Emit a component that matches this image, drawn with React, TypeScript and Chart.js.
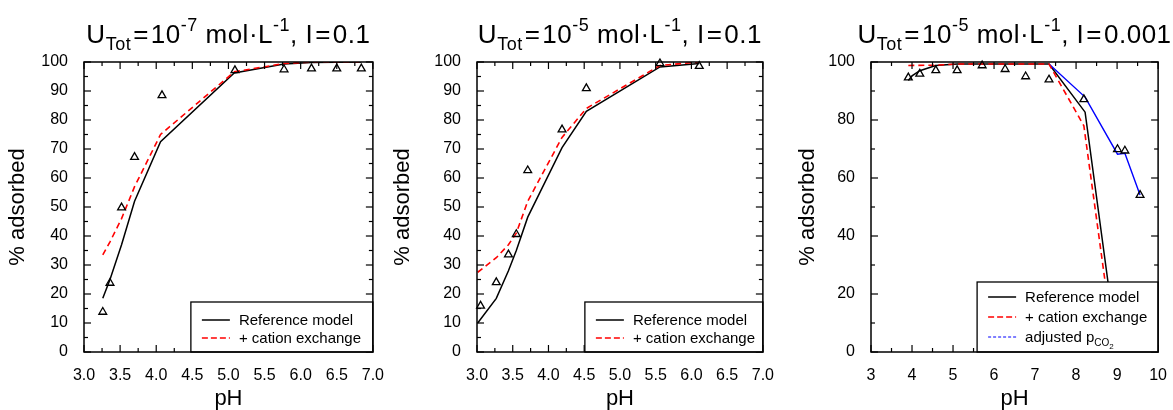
import React, { useEffect, useRef } from 'react';
import { Chart, registerables } from 'chart.js';

Chart.register(...registerables);

const FONT = "'Liberation Sans', Arial, Helvetica, sans-serif";

// ---------- Panel 1: U_Tot = 1e-7 mol/L, I = 0.1 ----------
const p1ExpPH = [3.26, 3.36, 3.52, 3.70, 4.08, 5.09, 5.77, 6.15, 6.50, 6.84];
const p1ExpAds = [13.8, 23.8, 49.8, 67.2, 88.5, 97.1, 97.4, 97.7, 97.7, 97.7];
const p1RefPH = [3.26, 3.36, 3.52, 3.70, 4.06, 5.08, 5.77, 6.15, 6.84];
const p1RefAds = [18.5, 25.0, 37.0, 52.0, 72.5, 96.2, 99.3, 99.8, 100];
const p1CexPH = [3.26, 3.36, 3.52, 3.70, 4.06, 5.08, 5.77, 6.15, 6.84];
const p1CexAds = [33.5, 38.0, 46.0, 57.0, 75.0, 96.6, 99.5, 100, 100];

// ---------- Panel 2: U_Tot = 1e-5 mol/L, I = 0.1 ----------
const p2ExpPH = [3.05, 3.27, 3.44, 3.55, 3.71, 4.19, 4.53, 5.56, 6.11];
const p2ExpAds = [15.9, 24.0, 33.6, 40.6, 62.6, 76.7, 90.9, 99.5, 98.6];
const p2RefPH = [3.01, 3.27, 3.44, 3.55, 3.71, 4.19, 4.53, 5.56, 6.11];
const p2RefAds = [10.0, 18.5, 28.0, 35.0, 46.5, 70.5, 83.0, 98.3, 99.5];
const p2CexPH = [3.01, 3.27, 3.44, 3.55, 3.71, 4.19, 4.53, 5.56, 6.11];
const p2CexAds = [27.5, 32.5, 37.0, 41.0, 52.0, 74.0, 84.0, 98.8, 100];

// ---------- Panel 3: U_Tot = 1e-5 mol/L, I = 0.001 ----------
const p3ExpPH = [3.91, 4.19, 4.58, 5.10, 5.71, 6.27, 6.77, 7.34, 8.19, 9.01, 9.19, 9.56];
const p3ExpAds = [94.6, 95.9, 97.1, 97.1, 98.8, 97.5, 95.0, 93.9, 87.1, 69.9, 69.4, 54.1];
const p3RefPH = [3.91, 4.00, 4.19, 4.58, 5.10, 7.34, 8.22, 8.77, 9.00];
const p3RefAds = [93.6, 95.2, 97.0, 98.8, 99.3, 99.3, 82.7, 25.0, 0];
const p3CexPH = [3.91, 4.58, 5.10, 7.34, 8.19, 8.71, 8.95];
const p3CexAds = [98.8, 98.9, 99.3, 99.3, 78.0, 24.0, 0];
const p3PcoPH = [7.34, 8.22, 9.01, 9.19, 9.56];
const p3PcoAds = [99.3, 87.9, 68.2, 68.5, 54.1];

// ---------- Ticks ----------
const xTicksHalf = [3.0, 3.5, 4.0, 4.5, 5.0, 5.5, 6.0, 6.5, 7.0];
const xTicksUnit = [3, 4, 5, 6, 7, 8, 9, 10];
const yTicksTen = [0, 10, 20, 30, 40, 50, 60, 70, 80, 90, 100];
const yTicksTwenty = [0, 20, 40, 60, 80, 100];

// ---------- Text ----------
const yAxisLabel = '% adsorbed';
const xAxisLabel = 'pH';
const legendRef = 'Reference model';
const legendCex = '+ cation exchange';
const legendPco = 'adjusted p';

type Piece = { t: string; k?: 'sub' | 'sup' | 'sub2'; gap?: number };

const titlePieces = (exp: string, ionic: string): Piece[] => [
  { t: 'U' },
  { t: 'Tot', k: 'sub' },
  { t: '=', gap: 2 },
  { t: '10' },
  { t: exp, k: 'sup' },
  { t: ' mol\u00b7L' },
  { t: '-1', k: 'sup' },
  { t: ', I' },
  { t: '=', gap: 2 },
  { t: ionic },
];

function drawPieces(
  ctx: CanvasRenderingContext2D,
  pieces: Piece[],
  x: number,
  baseline: number,
  size: number,
  center: boolean,
  spacing: number
) {
  const sizes = pieces.map((p) => (p.k === 'sub2' ? Math.round(size * 0.55) : p.k ? Math.round(size * 0.68) : size));
  (ctx as any).letterSpacing = spacing + 'px';
  const widths = pieces.map((p, i) => {
    ctx.font = `${sizes[i]}px ${FONT}`;
    return ctx.measureText(p.t).width + 2 * (p.gap || 0);
  });
  const total = widths.reduce((a, b) => a + b, 0);
  let cx = center ? x - total / 2 : x;
  ctx.textAlign = 'left';
  ctx.textBaseline = 'alphabetic';
  pieces.forEach((p, i) => {
    ctx.font = `${sizes[i]}px ${FONT}`;
    let dy = 0;
    if (p.k === 'sub') dy = size * 0.28;
    if (p.k === 'sup') dy = -size * 0.45;
    if (p.k === 'sub2') dy = size * 0.45;
    ctx.fillText(p.t, cx + (p.gap || 0), baseline + dy);
    cx += widths[i];
  });
  (ctx as any).letterSpacing = '0px';
}

type LineSpec = {
  ph: number[];
  ads: number[];
  color: string;
  dash: number[];
  width: number;
  order: number;
  legDash: number[];
  legWidth: number;
  pieces: Piece[];
};

type PanelSpec = {
  id: string;
  left: number;
  w: number;
  plotLeft: number;
  plotRight: number;
  xMin: number;
  xMax: number;
  xTicks: number[];
  yTicks: number[];
  xFmt: (v: number) => string;
  yTitlePad: number;
  expPH: number[];
  expAds: number[];
  lines: LineSpec[];
  title: Piece[];
  legW: number;
  legH: number;
  legRow0: number;
  legGap: number;
};

const refLine = (ph: number[], ads: number[]): LineSpec => ({
  ph, ads, color: '#000000', dash: [], width: 1.5, order: 3, legDash: [], legWidth: 1.5,
  pieces: [{ t: legendRef }],
});
const cexLine = (ph: number[], ads: number[]): LineSpec => ({
  ph, ads, color: '#ff0000', dash: [6, 4], width: 1.6, order: 1, legDash: [6, 3], legWidth: 1.6,
  pieces: [{ t: legendCex }],
});
const pcoLine = (ph: number[], ads: number[]): LineSpec => ({
  ph, ads, color: '#0000ff', dash: [], width: 1.4, order: 2, legDash: [3, 2], legWidth: 1.1,
  pieces: [{ t: legendPco }, { t: 'CO', k: 'sub' }, { t: '2', k: 'sub2' }],
});

const fmt1 = (v: number) => v.toFixed(1);
const fmt0 = (v: number) => String(v);

const panels: PanelSpec[] = [
  {
    id: 'p1', left: 0, w: 390, plotLeft: 84, plotRight: 375, xMin: 3, xMax: 7,
    xTicks: xTicksHalf, yTicks: yTicksTen, xFmt: fmt1, yTitlePad: 5,
    expPH: p1ExpPH, expAds: p1ExpAds,
    lines: [refLine(p1RefPH, p1RefAds), cexLine(p1CexPH, p1CexAds)],
    title: titlePieces('-7', '0.1'),
    legW: 182, legH: 50, legRow0: 18, legGap: 18,
  },
  {
    id: 'p2', left: 390, w: 390, plotLeft: 87, plotRight: 375, xMin: 3, xMax: 7,
    xTicks: xTicksHalf, yTicks: yTicksTen, xFmt: fmt1, yTitlePad: 0,
    expPH: p2ExpPH, expAds: p2ExpAds,
    lines: [refLine(p2RefPH, p2RefAds), cexLine(p2CexPH, p2CexAds)],
    title: titlePieces('-5', '0.1'),
    legW: 178, legH: 50, legRow0: 18, legGap: 18,
  },
  {
    id: 'p3', left: 780, w: 393, plotLeft: 91, plotRight: 380, xMin: 3, xMax: 10,
    xTicks: xTicksUnit, yTicks: yTicksTwenty, xFmt: fmt0, yTitlePad: 15,
    expPH: p3ExpPH, expAds: p3ExpAds,
    lines: [refLine(p3RefPH, p3RefAds), cexLine(p3CexPH, p3CexAds), pcoLine(p3PcoPH, p3PcoAds)],
    title: titlePieces('-5', '0.001'),
    legW: 181, legH: 70, legRow0: 15, legGap: 20,
  },
];

const H = 410;
const PLOT_TOP = 62;
const PLOT_BOTTOM = 352;

const pts = (xs: number[], ys: number[]) => xs.map((x, i) => ({ x, y: ys[i] }));

function decorPlugin(p: PanelSpec) {
  return {
    id: 'decor_' + p.id,
    afterDatasetsDraw(chart: any) {
      const ctx: CanvasRenderingContext2D = chart.ctx;
      const { left, right, top, bottom } = chart.chartArea;
      const xs = chart.scales.x;
      const ys = chart.scales.y;
      const seg = (x1: number, y1: number, x2: number, y2: number) => {
        ctx.beginPath();
        ctx.moveTo(x1, y1);
        ctx.lineTo(x2, y2);
        ctx.stroke();
      };
      ctx.save();
      ctx.strokeStyle = '#000';
      ctx.lineWidth = 1.2;
      ctx.setLineDash([]);
      const MAJ = 7;
      const MIN = 4;
      const xv = p.xTicks;
      for (let i = 0; i < xv.length; i++) {
        const px = xs.getPixelForValue(xv[i]);
        seg(px, bottom, px, bottom - MAJ);
        seg(px, top, px, top + MAJ);
        if (i < xv.length - 1) {
          const m = xs.getPixelForValue((xv[i] + xv[i + 1]) / 2);
          seg(m, bottom, m, bottom - MIN);
          seg(m, top, m, top + MIN);
        }
      }
      const yv = p.yTicks;
      for (let i = 0; i < yv.length; i++) {
        const py = ys.getPixelForValue(yv[i]);
        seg(left, py, left + MAJ, py);
        seg(right, py, right - MAJ, py);
        if (i < yv.length - 1) {
          const m = ys.getPixelForValue((yv[i] + yv[i + 1]) / 2);
          seg(left, m, left + MIN, m);
          seg(right, m, right - MIN, m);
        }
      }
      // legend box
      const lx = right - p.legW;
      const ly = bottom - p.legH;
      ctx.fillStyle = '#fff';
      ctx.fillRect(lx, ly, p.legW, p.legH);
      ctx.lineWidth = 1.3;
      ctx.strokeRect(lx, ly, p.legW, p.legH);
      p.lines.forEach((l, i) => {
        const ry = ly + p.legRow0 + i * p.legGap;
        ctx.strokeStyle = l.color;
        ctx.lineWidth = l.legWidth;
        ctx.setLineDash(l.legDash);
        seg(lx + 11, ry, lx + 39, ry);
        ctx.setLineDash([]);
        ctx.fillStyle = '#000';
        drawPieces(ctx, l.pieces, lx + 48, ry + 5, 15, false, 0);
      });
      // frame
      ctx.strokeStyle = '#000';
      ctx.lineWidth = 1.5;
      ctx.strokeRect(left, top, right - left, bottom - top);
      ctx.restore();
    },
    afterDraw(chart: any) {
      const ctx: CanvasRenderingContext2D = chart.ctx;
      const { left, right } = chart.chartArea;
      ctx.save();
      ctx.fillStyle = '#000';
      drawPieces(ctx, p.title, (left + right) / 2, 43, 26, true, 0.5);
      ctx.restore();
    },
  };
}

function buildConfig(p: PanelSpec): any {
  const datasets: any[] = [
    {
      label: 'measured',
      data: pts(p.expPH, p.expAds),
      showLine: false,
      pointStyle: 'triangle',
      pointRadius: 4.5,
      pointBorderWidth: 1.3,
      pointBorderColor: '#000',
      pointBackgroundColor: 'rgba(0,0,0,0)',
      borderColor: '#000',
      order: 0,
      clip: false,
    },
    ...p.lines.map((l) => ({
      label: l.pieces.map((q) => q.t).join(''),
      data: pts(l.ph, l.ads),
      borderColor: l.color,
      borderWidth: l.width,
      borderDash: l.dash,
      pointRadius: 0,
      tension: 0,
      fill: false,
      order: l.order,
    })),
  ];
  const tickFont = { family: FONT, size: 16 };
  return {
    type: 'line',
    data: { datasets },
    options: {
      animation: false,
      responsive: false,
      layout: { padding: { left: 0, right: p.w - p.plotRight, top: PLOT_TOP, bottom: 0 } },
      plugins: { legend: { display: false }, tooltip: { enabled: false }, title: { display: false } },
      scales: {
        x: {
          type: 'linear',
          min: p.xMin,
          max: p.xMax,
          afterBuildTicks: (s: any) => {
            s.ticks = p.xTicks.map((v) => ({ value: v }));
          },
          afterFit: (s: any) => {
            s.height = H - PLOT_BOTTOM;
          },
          ticks: {
            callback: (v: any) => p.xFmt(Number(v)),
            font: tickFont,
            color: '#000',
            padding: 6,
            maxRotation: 0,
            autoSkip: false,
          },
          grid: { display: false },
          border: { display: false },
          title: { display: true, text: xAxisLabel, color: '#000', font: { family: FONT, size: 22 }, padding: { top: 0, bottom: -2 } },
        },
        y: {
          type: 'linear',
          min: 0,
          max: 100,
          afterBuildTicks: (s: any) => {
            s.ticks = p.yTicks.map((v) => ({ value: v }));
          },
          afterFit: (s: any) => {
            s.width = p.plotLeft;
          },
          ticks: {
            callback: (v: any) => String(v),
            font: tickFont,
            color: '#000',
            padding: 8,
            autoSkip: false,
          },
          grid: { display: false },
          border: { display: false },
          title: {
            display: true,
            text: yAxisLabel,
            color: '#000',
            font: { family: FONT, size: 22 },
            padding: { top: p.yTitlePad, bottom: 0 },
          },
        },
      },
    },
    plugins: [decorPlugin(p)],
  };
}

function Panel({ p }: { p: PanelSpec }) {
  const ref = useRef<HTMLCanvasElement>(null);
  useEffect(() => {
    const chart = new Chart(ref.current as HTMLCanvasElement, buildConfig(p));
    return () => chart.destroy();
  }, []);
  return (
    <canvas
      ref={ref}
      width={p.w}
      height={H}
      style={{ position: 'absolute', left: p.left, top: 0, width: p.w, height: H }}
    />
  );
}

export default function App() {
  return (
    <div style={{ position: 'fixed', left: 0, top: 0, width: 1173, height: H, background: '#fff', overflow: 'hidden' }}>
      {panels.map((p) => (
        <Panel key={p.id} p={p} />
      ))}
    </div>
  );
}
